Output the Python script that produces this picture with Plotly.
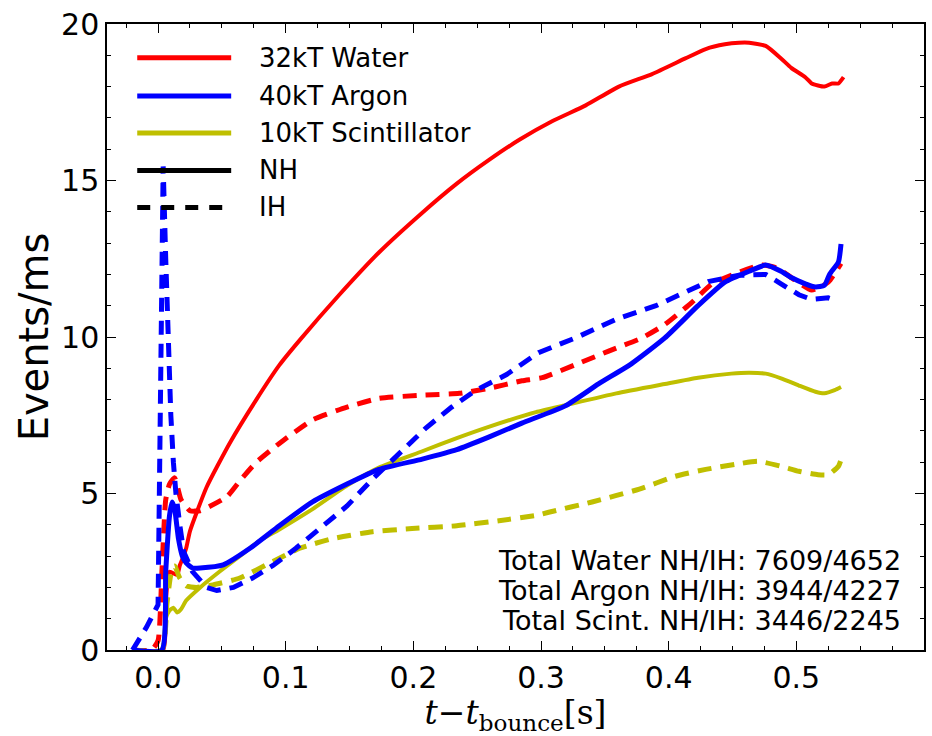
import plotly.graph_objects as go

# ---------------- data ----------------
water_nh_t = [-0.02, 0.004, 0.006, 0.009, 0.015, 0.017, 0.019, 0.022, 0.025, 0.038, 0.056, 0.077,
              0.095, 0.111, 0.142, 0.173, 0.205, 0.234, 0.259, 0.283, 0.309, 0.335, 0.361, 0.387,
              0.413, 0.429, 0.444, 0.455, 0.463, 0.476, 0.488, 0.496, 0.507, 0.512, 0.522, 0.528,
              0.533, 0.537]
water_nh_y = [0, 0, 1.5, 2.5, 2.4, 2.7, 2.9, 3.25, 3.8, 5.2, 6.6, 8.0,
              9.1, 9.9, 11.35, 12.7, 13.9, 14.9, 15.65, 16.3, 16.9, 17.4, 18.0, 18.4,
              18.9, 19.2, 19.35, 19.4, 19.4, 19.3, 18.9, 18.6, 18.3, 18.1, 18.0, 18.1,
              18.1, 18.3]

water_ih_t = [-0.02, -0.005, 0.0, 0.003, 0.006, 0.009, 0.013, 0.018, 0.025, 0.033, 0.041, 0.054,
              0.064, 0.077, 0.095, 0.121, 0.148, 0.173, 0.207, 0.236, 0.259, 0.285, 0.301, 0.332,
              0.353, 0.379, 0.397, 0.418, 0.434, 0.457, 0.473, 0.485, 0.496, 0.512, 0.525, 0.535]
water_ih_y = [0, 0, 0.3, 2.5, 4.8, 5.3, 5.5, 4.8, 4.45, 4.45, 4.6, 4.9,
              5.4, 6.0, 6.6, 7.35, 7.76, 8.04, 8.14, 8.2, 8.36, 8.6, 8.7, 9.2,
              9.55, 9.97, 10.4, 11.1, 11.7, 12.1, 12.3, 12.2, 11.9, 11.5, 11.75, 12.35]

argon_nh_t = [-0.02, 0.003, 0.006, 0.009, 0.011, 0.013, 0.016, 0.019, 0.022, 0.027, 0.033, 0.051,
              0.072, 0.095, 0.121, 0.148, 0.173, 0.207, 0.234, 0.259, 0.285, 0.319, 0.345, 0.371,
              0.397, 0.423, 0.444, 0.463, 0.476, 0.488, 0.496, 0.507, 0.515, 0.522, 0.526, 0.533,
              0.535]
argon_nh_y = [0, 0, 2.5, 4.3, 4.73, 4.5, 3.55, 3.0, 2.78, 2.62, 2.62, 2.72,
              3.25, 3.97, 4.73, 5.3, 5.77, 6.1, 6.4, 6.8, 7.25, 7.8, 8.5, 9.15,
              9.97, 11.0, 11.75, 12.1, 12.3, 12.1, 11.9, 11.7, 11.6, 11.65, 12.0, 12.4,
              12.97]

argon_ih_t = [-0.02, -0.009, 0.0, 0.002, 0.004, 0.006, 0.008, 0.010, 0.012, 0.014, 0.017, 0.02,
              0.027, 0.038, 0.046, 0.059, 0.074, 0.09, 0.108, 0.127, 0.148, 0.168, 0.189, 0.21,
              0.23, 0.249, 0.273, 0.298, 0.327, 0.359, 0.39, 0.416, 0.431, 0.455, 0.476, 0.488,
              0.502, 0.512, 0.525, 0.531]
argon_ih_y = [0, 0.73, 1.45, 8.0, 15.45, 12.5, 9.5, 7.5, 6.0, 5.0, 4.0, 3.15,
              2.5, 2.0, 1.9, 2.0, 2.3, 2.7, 3.25, 3.9, 4.6, 5.46, 6.3, 7.1,
              7.76, 8.3, 8.8, 9.5, 9.97, 10.57, 11.0, 11.5, 11.77, 11.97, 12.0, 11.7,
              11.35, 11.2, 11.25, 11.17]

scint_nh_t = [-0.02, 0.003, 0.006, 0.009, 0.012, 0.015, 0.018, 0.022, 0.033, 0.048, 0.064, 0.08,
              0.095, 0.121, 0.148, 0.173, 0.207, 0.234, 0.259, 0.296, 0.319, 0.359, 0.397, 0.423,
              0.449, 0.463, 0.476, 0.488, 0.502, 0.515, 0.522, 0.53, 0.535]
scint_nh_y = [0, 0, 1.0, 1.26, 1.35, 1.2, 1.3, 1.58, 2.0, 2.5, 3.0, 3.5,
              3.85, 4.5, 5.25, 5.83, 6.35, 6.77, 7.13, 7.6, 7.82, 8.2, 8.5, 8.7,
              8.83, 8.86, 8.83, 8.68, 8.45, 8.25, 8.2, 8.3, 8.4]

scint_ih_t = [-0.02, 0.003, 0.007, 0.010, 0.013, 0.017, 0.022, 0.03, 0.043, 0.064, 0.09, 0.111,
              0.137, 0.168, 0.199, 0.234, 0.267, 0.296, 0.306, 0.34, 0.377, 0.405, 0.429, 0.452,
              0.47, 0.488, 0.502, 0.517, 0.525, 0.533, 0.535]
scint_ih_y = [0, 0, 1.5, 2.4, 2.68, 2.3, 2.05, 2.0, 2.08, 2.3, 2.83, 3.25,
              3.56, 3.78, 3.88, 3.97, 4.13, 4.3, 4.4, 4.73, 5.14, 5.55, 5.77, 5.93,
              6.03, 5.87, 5.71, 5.6, 5.6, 5.87, 6.08]

legend_labels = ["32kT Water", "40kT Argon", "10kT Scintillator", "NH", "IH"]
totals_text = ["Total Water NH/IH: 7609/4652",
               "Total Argon NH/IH: 3944/4227",
               "Total Scint. NH/IH: 3446/2245"]
x_ticks = [0.0, 0.1, 0.2, 0.3, 0.4, 0.5]
y_ticks = [0, 5, 10, 15, 20]

# ---------------- styling ----------------
RED, BLUE, YEL = "#ff0000", "#0000ff", "#bfbf00"
DASH = "14px,9px"
FONT = "DejaVu Sans"

fig = go.Figure()

def add(t, y, color, width, dash=None, shape="spline"):
    line = dict(color=color, width=width, shape=shape)
    if shape == "spline":
        line["smoothing"] = 0.5
    if dash:
        line["dash"] = dash
    fig.add_trace(go.Scatter(x=t, y=y, mode="lines", line=line,
                             showlegend=False, hoverinfo="skip"))

add(water_nh_t, water_nh_y, RED, 4)
add(water_ih_t, water_ih_y, RED, 5, DASH)
add(scint_nh_t, scint_nh_y, YEL, 4)
add(scint_ih_t, scint_ih_y, YEL, 5, DASH)
add(argon_nh_t, argon_nh_y, BLUE, 5)
add(argon_ih_t, argon_ih_y, BLUE, 5, DASH, shape="linear")

# ---------------- custom legend (frameless, matplotlib-like) ----------------
leg_colors = [RED, BLUE, YEL, "black", "black"]
leg_dash = ["solid", "solid", "solid", "solid", "dash"]
leg_y = [0.946, 0.885, 0.826, 0.766, 0.707]
shapes = []
annotations = []
for lab, c, d, yy in zip(legend_labels, leg_colors, leg_dash, leg_y):
    shapes.append(dict(type="line", xref="paper", yref="paper",
                       x0=0.037, x1=0.152, y0=yy, y1=yy,
                       line=dict(color=c, width=5,
                                 dash=("13px,11px" if d == "dash" else "solid"))))
    annotations.append(dict(xref="paper", yref="paper", x=0.183, y=yy,
                            text=lab, showarrow=False, xanchor="left",
                            yanchor="middle", font=dict(family=FONT, size=26, color="black")))

for txt, yy in zip(totals_text, [0.1435, 0.0946, 0.0473]):
    annotations.append(dict(xref="paper", yref="paper", x=0.974, y=yy,
                            text=txt, showarrow=False, xanchor="right",
                            yanchor="middle", font=dict(family=FONT, size=27, color="black")))

fig.update_layout(
    width=932, height=736,
    margin=dict(l=107, r=6, t=19, b=83),
    paper_bgcolor="white", plot_bgcolor="white",
    shapes=shapes, annotations=annotations,
    font=dict(family=FONT, color="black"),
    xaxis=dict(range=[-0.04, 0.6], tickvals=x_ticks,
               ticktext=[f"{v:.1f}" for v in x_ticks],
               showgrid=False, zeroline=False, showline=True, mirror="ticks",
               linecolor="black", linewidth=1.5,
               ticks="inside", ticklen=9, tickwidth=1.2, tickcolor="black",
               minor=dict(dtick=0.025, tick0=0, ticks="inside", ticklen=4.5,
                          tickwidth=1, tickcolor="black", showgrid=False),
               tickfont=dict(family=FONT, size=30, color="black"),
               title=dict(text="<i>t</i>−<i>t</i><sub>bounce</sub>[s]",
                          font=dict(family="DejaVu Serif", size=33, color="black"),
                          standoff=12)),
    yaxis=dict(range=[0, 20], tickvals=y_ticks,
               showgrid=False, zeroline=False, showline=True, mirror="ticks",
               linecolor="black", linewidth=1.5,
               ticks="inside", ticklen=9, tickwidth=1.2, tickcolor="black",
               minor=dict(dtick=1, tick0=0, ticks="inside", ticklen=4.5,
                          tickwidth=1, tickcolor="black", showgrid=False),
               tickfont=dict(family=FONT, size=30, color="black"),
               title=dict(text="Events/ms",
                          font=dict(family=FONT, size=40, color="black"),
                          standoff=0)),
)

fig.write_html("out.html")
